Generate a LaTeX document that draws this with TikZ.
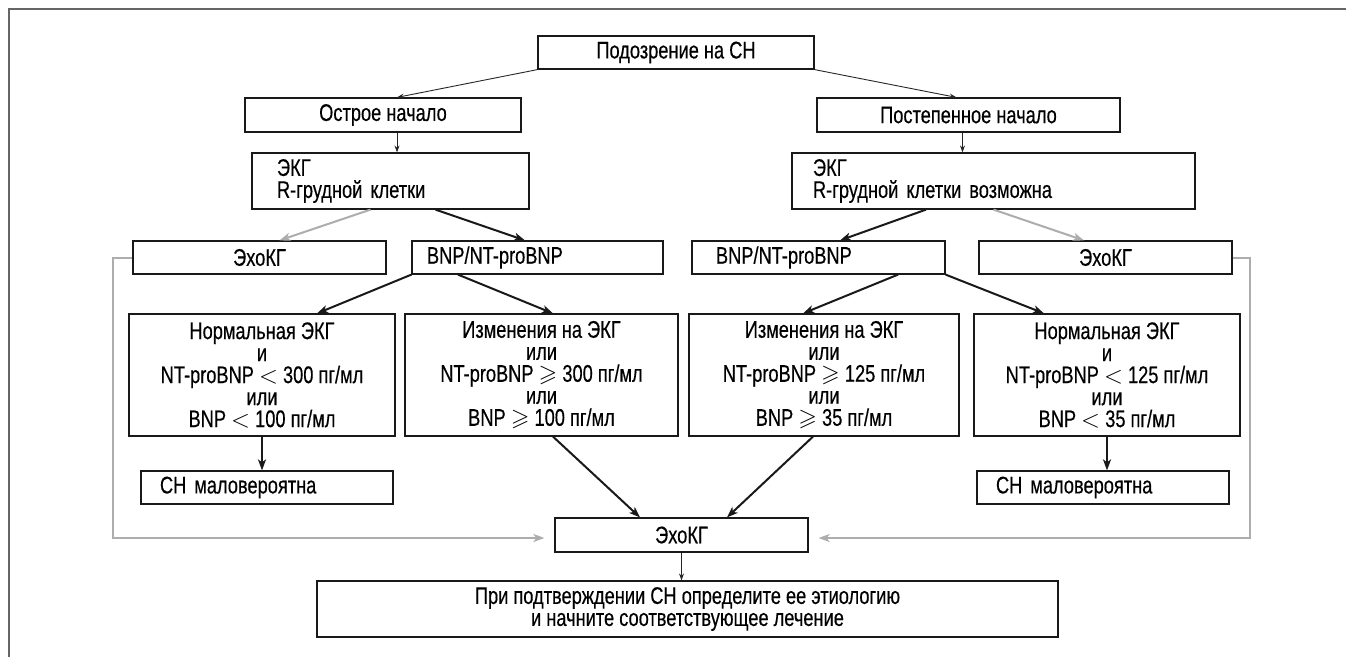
\documentclass[tikz,border=0pt]{standalone}
\usepackage{amssymb}
\usepackage{fontspec}
\setmainfont{Liberation Sans}[FakeStretch=0.76,FakeBold=0.4]
\usepackage{tikz}
\usetikzlibrary{arrows.meta,calc}

\begin{document}
\begin{tikzpicture}[x=1pt,y=-1pt,font=\fontsize{24}{22}\selectfont,
  box/.style={draw=black!90,line width=1.2pt,inner sep=0pt,minimum height=33pt,align=center},
  crit/.style={box,minimum height=122pt},
  lightarrow/.style={-{Stealth[length=7pt,width=5pt]},line width=0.9pt,black!85},
  boldarrow/.style={-{Stealth[length=11pt,width=8pt,inset=3pt]},line width=2pt,black!90},
  grayarrow/.style={-{Stealth[length=11pt,width=8pt,inset=3pt]},line width=2pt,black!32}]
  \useasboundingbox (0,0) rectangle (1346,657);
  \draw[black!60,line width=1.2pt] (9,657) -- (9,9) -- (1346,9);

  \node[box,minimum width=276pt] (susp) at (676,52.5) {Подозрение на СН};
  \node[box,minimum width=276pt,minimum height=34pt] (acute) at (383,115) {Острое начало};
  \node[box,minimum width=303pt,minimum height=34pt] (grad) at (968.5,115) {Постепенное начало};
  \node[box,minimum height=56pt,text width=227pt,inner xsep=25pt,align=left] (ecgL) at (390.5,181) {ЭКГ\\R-грудной клетки};
  \node[box,minimum height=56pt,text width=361pt,inner xsep=21pt,align=left] (ecgR) at (993.5,181) {ЭКГ\\R-грудной клетки возможна};
  \node[box,minimum width=253pt] (echoL) at (259.5,257.5) {ЭхоКГ};
  \node[box,text width=221pt,inner xsep=15pt,align=left] (bnpL) at (537.5,257.5) {BNP/NT-proBNP};
  \node[box,text width=205pt,inner xsep=24pt,align=left] (bnpR) at (818.5,257.5) {BNP/NT-proBNP};
  \node[box,minimum width=253pt] (echoR) at (1105.5,257.5) {ЭхоКГ};
  \node[crit,minimum width=266pt] (normL) at (262,375) {Нормальная ЭКГ\\и\\NT-proBNP $<$ 300 пг/мл\\или\\BNP $<$ 100 пг/мл};
  \node[crit,minimum width=273pt] (chgL) at (541.5,375) {Изменения на ЭКГ\\или\\NT-proBNP $\geqslant$ 300 пг/мл\\или\\BNP $\geqslant$ 100 пг/мл};
  \node[crit,minimum width=270pt] (chgR) at (824,375) {Изменения на ЭКГ\\или\\NT-proBNP $\geqslant$ 125 пг/мл\\или\\BNP $\geqslant$ 35 пг/мл};
  \node[crit,minimum width=266pt] (normR) at (1107,375) {Нормальная ЭКГ\\и\\NT-proBNP $<$ 125 пг/мл\\или\\BNP $<$ 35 пг/мл};
  \node[box,text width=214pt,inner xsep=19pt,align=left] (unlL) at (267,487.5) {СН маловероятна};
  \node[box,text width=214pt,inner xsep=19pt,align=left] (unlR) at (1103,487.5) {СН маловероятна};
  \node[box,minimum width=253pt,minimum height=34pt] (echoB) at (681.5,535) {ЭхоКГ};
  \node[box,minimum width=741pt,minimum height=56pt] (final) at (687.5,609) {При подтверждении СН определите ее этиологию\\и начните соответствующее лечение};

  \coordinate (dnL) at ($(acute.south)+(14,0)$);
  \coordinate (dnR) at ($(grad.south)+(-6,0)$);
  \draw[lightarrow] (susp.south west) -- ($(acute.north)+(14,0)$);
  \draw[lightarrow] (susp.south east) -- ($(grad.north)+(-12,0)$);
  \draw[lightarrow] (dnL) -- (dnL |- ecgL.north);
  \draw[lightarrow] (dnR) -- (dnR |- ecgR.north);

  \draw[grayarrow] ($(ecgL.south)+(-20,0)$) -- ($(echoL.north)+(20,0)$);
  \draw[boldarrow] ($(ecgL.south)+(45,0)$) -- ($(bnpL.north)+(-12.5,0)$);
  \draw[boldarrow] ($(ecgR.south)+(-67.5,0)$) -- ($(bnpR.north)+(21.5,0)$);
  \draw[grayarrow] (ecgR.south) -- ($(echoR.north)+(-21.5,0)$);

  \draw[boldarrow] (bnpL.south west) -- ($(normL.north)+(55,0)$);
  \draw[boldarrow] ($(bnpL.south)+(-79.5,0)$) -- ($(chgL.north)+(11.5,0)$);
  \draw[boldarrow] ($(bnpR.south)+(79.5,0)$) -- ($(chgR.north)+(-21,0)$);
  \draw[boldarrow] (bnpR.south east) -- ($(normR.north)+(-63,0)$);

  \draw[boldarrow] (normL.south) -- (normL.south |- unlL.north);
  \draw[boldarrow] (normR.south) -- (normR.south |- unlR.north);
  \draw[boldarrow] ($(chgL.south)+(11.5,0)$) -- ($(echoB.north)+(-41.5,0)$);
  \draw[boldarrow] ($(chgR.south)+(-11,0)$) -- ($(echoB.north)+(45.5,0)$);

  \draw[grayarrow] (echoL.west) -- ++(-19,0) |- ($(echoB.west)+(-10,3)$);
  \draw[grayarrow] (echoR.east) -- ++(17,0) |- ($(echoB.east)+(10,3)$);
  \draw[lightarrow] (echoB.south) -- (echoB.south |- final.north);
\end{tikzpicture}
\end{document}
